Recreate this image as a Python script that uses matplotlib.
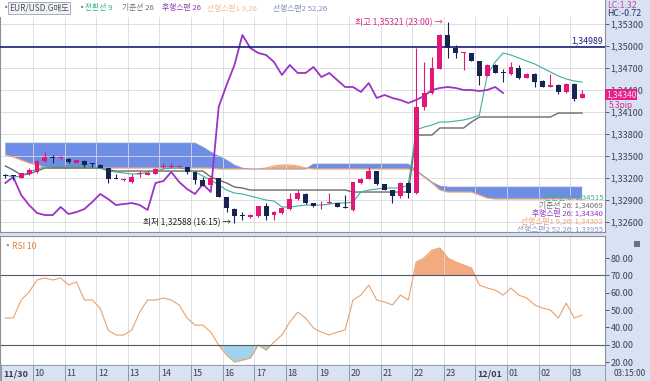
import numpy as np
import matplotlib
matplotlib.use('Agg')
import matplotlib.pyplot as plt
import matplotlib.transforms as mtrans
from matplotlib.patches import Rectangle

plt.rcParams['font.family'] = ['Noto Sans CJK KR', 'DejaVu Sans']

# EUR/USD 15-minute bars, 11/30 09:00 .. 12/01 03:15
hour_labels = ['11/30', '10', '11', '12', '13', '14', '15', '16', '17', '18', '19',
               '20', '21', '22', '23', '12/01', '01', '02', '03']

opens = [1.33232, 1.33232, 1.33200, 1.33255, 1.33282, 1.33432, 1.33478, 1.33470, 1.33459, 1.33405,
         1.33432, 1.33395, 1.33377, 1.33336, 1.33190, 1.33170, 1.33145, 1.33250, 1.33241, 1.33255,
         1.33346, 1.33348, 1.33350, 1.33350, 1.33282, 1.33173, 1.33105, 1.33200, 1.32941, 1.32777,
         1.32686, 1.32668, 1.32682, 1.32818, 1.32695, 1.32723, 1.32777, 1.32914, 1.32982, 1.32859,
         1.32840, 1.32855, 1.32859, 1.32805, 1.32764, 1.33132, 1.33186, 1.33295, 1.33118, 1.33036,
         1.32955, 1.33132, 1.32995, 1.34168, 1.34359, 1.34686, 1.35150, 1.34973, 1.34900, 1.34905,
         1.34795, 1.34591, 1.34741, 1.34636, 1.34618, 1.34700, 1.34564, 1.34618, 1.34523, 1.34441,
         1.34468, 1.34373, 1.34482, 1.34291]
highs = [1.33250, 1.33241, 1.33275, 1.33336, 1.33440, 1.33555, 1.33514, 1.33500, 1.33473, 1.33450,
         1.33440, 1.33405, 1.33385, 1.33340, 1.33255, 1.33200, 1.33255, 1.33290, 1.33290, 1.33330,
         1.33405, 1.33405, 1.33380, 1.33355, 1.33290, 1.33214, 1.33241, 1.33205, 1.32945, 1.32790,
         1.32736, 1.32705, 1.32825, 1.32859, 1.32745, 1.32800, 1.32995, 1.33030, 1.32990, 1.32865,
         1.32880, 1.32995, 1.32865, 1.32970, 1.33150, 1.33195, 1.33350, 1.33300, 1.33125, 1.33040,
         1.33140, 1.33140, 1.34973, 1.34782, 1.34850, 1.35160, 1.35321, 1.35020, 1.34915, 1.34910,
         1.34800, 1.34750, 1.34750, 1.34680, 1.34782, 1.34741, 1.34625, 1.34625, 1.34530, 1.34618,
         1.34475, 1.34490, 1.34490, 1.34400]
lows = [1.33205, 1.33173, 1.33195, 1.33245, 1.33275, 1.33425, 1.33405, 1.33440, 1.33410, 1.33400,
        1.33350, 1.33350, 1.33330, 1.33132, 1.33180, 1.33160, 1.33132, 1.33220, 1.33235, 1.33250,
        1.33340, 1.33340, 1.33345, 1.33255, 1.33118, 1.33085, 1.33100, 1.32935, 1.32736, 1.32588,
        1.32627, 1.32660, 1.32675, 1.32627, 1.32627, 1.32715, 1.32770, 1.32905, 1.32850, 1.32810,
        1.32780, 1.32850, 1.32800, 1.32785, 1.32750, 1.33125, 1.33180, 1.33110, 1.33030, 1.32859,
        1.32927, 1.32927, 1.32980, 1.34127, 1.34350, 1.34680, 1.34836, 1.34836, 1.34673, 1.34790,
        1.34468, 1.34585, 1.34625, 1.34510, 1.34610, 1.34555, 1.34560, 1.34441, 1.34435, 1.34435,
        1.34345, 1.34365, 1.34250, 1.34285]
closes = [1.33227, 1.33227, 1.33268, 1.33309, 1.33432, 1.33486, 1.33473, 1.33476, 1.33418, 1.33445,
          1.33377, 1.33391, 1.33336, 1.33186, 1.33186, 1.33175, 1.33214, 1.33256, 1.33268, 1.33323,
          1.33352, 1.33354, 1.33355, 1.33282, 1.33173, 1.33091, 1.33200, 1.32941, 1.32791, 1.32682,
          1.32682, 1.32700, 1.32818, 1.32682, 1.32736, 1.32791, 1.32914, 1.32995, 1.32859, 1.32818,
          1.32845, 1.32860, 1.32805, 1.32791, 1.33145, 1.33186, 1.33295, 1.33118, 1.33036, 1.32955,
          1.33132, 1.32995, 1.34168, 1.34359, 1.34700, 1.35150, 1.34973, 1.34905, 1.34905, 1.34795,
          1.34591, 1.34741, 1.34632, 1.34632, 1.34714, 1.34564, 1.34618, 1.34509, 1.34441, 1.34468,
          1.34373, 1.34482, 1.34277, 1.34340]

# Ichimoku lines as drawn
tenkan = [1.33241, 1.33214, 1.33227, 1.33282, 1.33323, 1.33350, 1.33364, 1.33364, 1.33364, 1.33364,
          1.33350, 1.33350, 1.33336, 1.33295, 1.33282, 1.33268, 1.33255, 1.33255, 1.33282, 1.33295,
          1.33323, 1.33336, 1.33336, 1.33323, 1.33282, 1.33227, 1.33173, 1.33105, 1.33036, 1.32995,
          1.32982, 1.32955, 1.32927, 1.32900, 1.32886, 1.32805, 1.32805, 1.32818, 1.32832, 1.32832,
          1.32832, 1.32845, 1.32859, 1.32859, 1.32873, 1.33009, 1.33036, 1.33050, 1.33064, 1.33064,
          1.33064, 1.33105, 1.33855, 1.33895, 1.33923, 1.33964, 1.33964, 1.33977, 1.33991, 1.34018,
          1.34059, 1.34605, 1.34782, 1.34905, 1.34877, 1.34836, 1.34795, 1.34755, 1.34700, 1.34645,
          1.34591, 1.34550, 1.34523, 1.34509]
kijun = [1.33364, 1.33309, 1.33241, 1.33255, 1.33295] + [1.33336] * 8 + [1.33309] + [1.33295] * 12 \
    + [1.33214, 1.33173, 1.33132, 1.33077, 1.33064] + [1.33036] * 13 + [1.33009] * 8 \
    + [1.33786] * 3 + [1.33882] * 4 + [1.33964] + [1.34032] * 10 + [1.34086] * 4
chikou = [1.33132, 1.33214, 1.32968, 1.32832, 1.32723, 1.32695, 1.32695, 1.32805, 1.32709, 1.32736,
          1.32777, 1.32873, 1.32982, 1.32914, 1.32832, 1.32845, 1.32859, 1.32832, 1.32764, 1.33132,
          1.33159, 1.33282, 1.33145, 1.33050, 1.32982, 1.33118, 1.33009, 1.34168, 1.34468, 1.34741,
          1.35150, 1.34973, 1.34905, 1.34877, 1.34782, 1.34605, 1.34741, 1.34632, 1.34632, 1.34714,
          1.34577, 1.34632, 1.34536, 1.34441, 1.34441, 1.34373, 1.34495, 1.34291, 1.34332, 1.34291,
          1.34264, 1.34223, 1.34264, 1.34318, 1.34400, 1.34427, 1.34441, 1.34427, 1.34400, 1.34400,
          1.34386, 1.34400, 1.34441, 1.34359]
span_a = [1.33514, 1.33486, 1.33445, 1.33405, 1.33377, 1.33350] + [1.33336] * 21 + [1.33323] * 4 \
    + [1.33323, 1.33323, 1.33336, 1.33364, 1.33377, 1.33377, 1.33364, 1.33336] + [1.33323] * 13 \
    + [1.33295, 1.33214, 1.33132, 1.33036, 1.33009, 1.33009, 1.33009, 1.33009, 1.32968, 1.32927] \
    + [1.32914] * 12
span_b = [1.33677] * 25 + [1.33623, 1.33555, 1.33500, 1.33445, 1.33377, 1.33336] + [1.33323] * 8 \
    + [1.33391] * 13 + [1.33309, 1.33227, 1.33145, 1.33091] + [1.33077] * 18

rsi = [45.4, 45.4, 55.8, 60.4, 67.3, 68.5, 67.3, 68.5, 64.4, 66.2,
       55.8, 55.8, 51.1, 38.5, 35.6, 35.6, 38.5, 48.8, 55.8, 55.8,
       56.9, 55.8, 52.9, 45.4, 41.3, 41.3, 37.3, 29.8, 24.0, 20.0,
       21.1, 22.3, 29.8, 26.9, 31.5, 35.6, 43.1, 48.8, 45.4, 39.6,
       37.3, 35.6, 37.3, 38.5, 55.8, 58.6, 64.4, 55.8, 54.6, 52.9,
       58.6, 55.8, 77.7, 80.0, 84.6, 85.8, 80.0, 77.7, 76.0, 74.2,
       64.4, 62.7, 61.5, 58.6, 62.7, 58.6, 56.9, 52.9, 51.1, 50.0,
       45.4, 54.0, 45.4, 47.1]

line_labels = ['전환선 9', '기준선 26', '후행스팬 26', '선행스팬1 9,26', '선행스팬2 52,26']
line_last = [1.34515, 1.34069, 1.34340, 1.34302, 1.33955]
hline_price = 1.34989
high_txt = '최고 1,35321 (23:00) →'
low_txt = '최저 1,32588 (16:15) →'

PINK = '#e3177a'
NAVY = '#18234f'
PANEL = '#d8e2f2'
c_tenkan, c_kijun, c_chikou = '#3fae9c', '#6b6b6b', '#9a34c6'
c_a, c_b = '#f0a878', '#8c9cc4'
line_cols = [c_tenkan, c_kijun, c_chikou, c_a, c_b]

W, H = 650, 381


def box(x0, y0, x1, y1):
    return [x0 / W, 1 - y1 / H, (x1 - x0) / W, (y1 - y0) / H]


def fmt(v):
    return f'{v:.5f}'.replace('.', ',')


fig = plt.figure(figsize=(6.5, 3.81), dpi=100, facecolor=PANEL)
ax = fig.add_axes(box(0, 0, 605, 232))
rax = fig.add_axes(box(0, 236, 605, 365), sharex=ax)
bax = fig.add_axes(box(0, 365, 605, 381), sharex=ax)

k = np.arange(len(closes))
o, hi, lo, c = map(np.array, (opens, highs, lows, closes))
up = c >= o
cols = np.where(up, PINK, NAVY)
bounds = np.arange(len(hour_labels)) * 4 - 0.5

# main panel
ka = np.arange(len(span_a))
sa, sb = np.array(span_a), np.array(span_b)
ax.fill_between(ka, sa, sb, where=sb >= sa, interpolate=True, color='#6e8de6', lw=0, zorder=1)
ax.fill_between(ka, sa, sb, where=sa > sb, interpolate=True, color='#f2a87c', lw=0, zorder=1)
ax.plot(ka, sa, color=c_a, lw=0.9, zorder=2)
ax.plot(ka, sb, color=c_b, lw=0.5, zorder=2)
ax.plot(np.arange(len(kijun)), kijun, color=c_kijun, lw=1.0, zorder=3)
ax.plot(np.arange(len(tenkan)), tenkan, color=c_tenkan, lw=0.8, zorder=3)
ax.plot(np.arange(len(chikou)), chikou, color=c_chikou, lw=1.3, zorder=4)

ax.vlines(k, lo, hi, colors=cols, lw=0.8, zorder=5)
body = np.maximum(np.abs(c - o), 0.00012)
ax.bar(k, body, bottom=np.minimum(o, c), width=0.62, color=cols, lw=0, zorder=6)

ax.axhline(hline_price, color='#1a1f80', lw=1.2, zorder=4)
ax.text(75.7, hline_price + 0.0002, fmt(hline_price), color='#1a1f80', fontsize=6.3,
        ha='right', va='bottom', zorder=7)

imax = int(np.argmax(hi))
imin = int(np.argmin(lo))
ax.annotate(high_txt, xy=(imax - 0.55, hi[imax]), xytext=(0, 0), textcoords='offset points',
            ha='right', va='center', color='#cf2a86', fontsize=6.2, zorder=7)
ax.annotate(low_txt, xy=(imin - 0.4, lo[imin]), xytext=(0, 0), textcoords='offset points',
            ha='right', va='center', color='#222222', fontsize=6.2, zorder=7)

ax.set_xlim(-0.68, 75.9)
ax.set_ylim(1.32464, 1.35627)
ax.set_facecolor('white')
ax.yaxis.tick_right()
ax.set_yticks(np.arange(1.326, 1.3535, 0.003))
ax.set_yticklabels([fmt(v) for v in np.arange(1.326, 1.3535, 0.003)])
ax.tick_params(axis='y', direction='out', length=3, width=0.6, colors='#3a4258',
               labelsize=6.5, pad=1)
ax.set_xticks(bounds[1:])
ax.tick_params(axis='x', length=0, labelbottom=False)
ax.grid(True, color='#d9d9e2', lw=0.6, zorder=0)
for s in ax.spines.values():
    s.set_color('#8a8f9c')
    s.set_linewidth(0.8)

for i, (lab, val, col) in enumerate(zip(line_labels, line_last, line_cols)):
    ax.text(0.997, (232 - 197 - 8 * i) / 232, f'{lab}: {fmt(val)}', transform=ax.transAxes,
            ha='right', va='center', color=col, fontsize=5.6, zorder=8)

# RSI panel
rv = np.array(rsi)
kr = np.arange(len(rsi))
rax.fill_between(kr, rv, 70, where=rv > 70, interpolate=True, color='#f4aa80', lw=0)
rax.fill_between(kr, rv, 30, where=rv < 30, interpolate=True, color='#9fd4ea', lw=0)
rax.plot(kr, rv, color='#e8a26c', lw=0.8)
rax.axhline(70, color='#555a66', lw=0.8)
rax.axhline(30, color='#555a66', lw=0.8)
rax.set_ylim(18.3, 92.7)
rax.yaxis.tick_right()
rax.set_yticks(np.arange(20, 81, 10))
rax.set_yticklabels([f'{v:.2f}' for v in np.arange(20, 81, 10)])
rax.tick_params(axis='y', direction='out', length=3, width=0.6, colors='#3a4258',
                labelsize=6.5, pad=1)
rax.tick_params(axis='x', length=0, labelbottom=False)
rax.grid(True, axis='x', color='#d9d9e2', lw=0.6)
for s in rax.spines.values():
    s.set_color('#8a8f9c')
    s.set_linewidth(0.8)
rax.text(0.006, 0.92, '▪', transform=rax.transAxes, color='#8a8f9c', fontsize=5.5,
         ha='left', va='center')
rax.text(0.02, 0.92, 'RSI 10', transform=rax.transAxes, color='#e0803a', fontsize=6.2,
         ha='left', va='center')

# time band
bax.set_facecolor(PANEL)
bax.set_yticks([])
bax.tick_params(axis='x', length=0, labelbottom=False)
bax.vlines(bounds, 0, 1, color='#8a96ad', lw=0.7, transform=bax.get_xaxis_transform())
trans = mtrans.blended_transform_factory(bax.transData, bax.transAxes)
for b, lab in zip(bounds, hour_labels):
    bold = '/' in lab
    bax.text(b + 0.2, 0.45, lab, transform=trans, fontsize=6.5, color='#3a3f4c',
             ha='left', va='center', fontweight='bold' if bold else 'normal')
for s in bax.spines.values():
    s.set_color('#8a8f9c')
    s.set_linewidth(0.6)

# header / side texts
fig.patches.append(Rectangle((0, 1 - 17 / H), 605 / W, 17 / H, transform=fig.transFigure,
                             facecolor='white', edgecolor='none', zorder=0.5))
fig.text(2 / W, 1 - 8 / H, '▪', color='#8a8f9c', fontsize=6, va='center')
fig.text(9 / W, 1 - 8 / H, 'EUR/USD.G매도', color='#4a5060', fontsize=6.0, va='center',
         bbox=dict(boxstyle='square,pad=0.15', fc='#f2f3f6', ec='#9aa0ac', lw=0.6))
fig.text(78 / W, 1 - 8 / H, '▪', color='#8a8f9c', fontsize=6, va='center')
head_x = [85, 122, 162, 207, 273]
head_cols = ['#30b090', '#707070', '#8a3cb0', '#f2bb98', '#8090b8']
for x, lab, col in zip(head_x, line_labels, head_cols):
    fig.text(x / W, 1 - 8 / H, lab, color=col, fontsize=5.6, va='center')

fig.text(607 / W, 1 - 5 / H, 'LC:1.32', color='#c0449e', fontsize=6.3, va='center')
fig.text(607 / W, 1 - 14 / H, 'HC:-0.72', color='#25306a', fontsize=6.3, va='center')
ly = ax.transData.transform((0, closes[-1]))[1] / fig.bbox.height
fig.text(606 / W, ly, fmt(closes[-1]), color='#ffe0ef', fontsize=6.0, va='center',
         bbox=dict(boxstyle='square,pad=0.1', fc='#e3208c', ec='none'))
fig.text(609 / W, ly - 11 / H, '5.3pip', color='#d0308a', fontsize=6.0, va='center')
fig.text(614 / W, 1 - 373 / H, '03:15:00', color='#3a3f4c', fontsize=6.0, va='center')
fig.patches.append(Rectangle((634 / W, 1 - 247 / H), 6 / W, 6 / H, transform=fig.transFigure,
                             facecolor='#6a7080', edgecolor='none'))

fig.savefig('out.png', dpi=100, facecolor=PANEL)
